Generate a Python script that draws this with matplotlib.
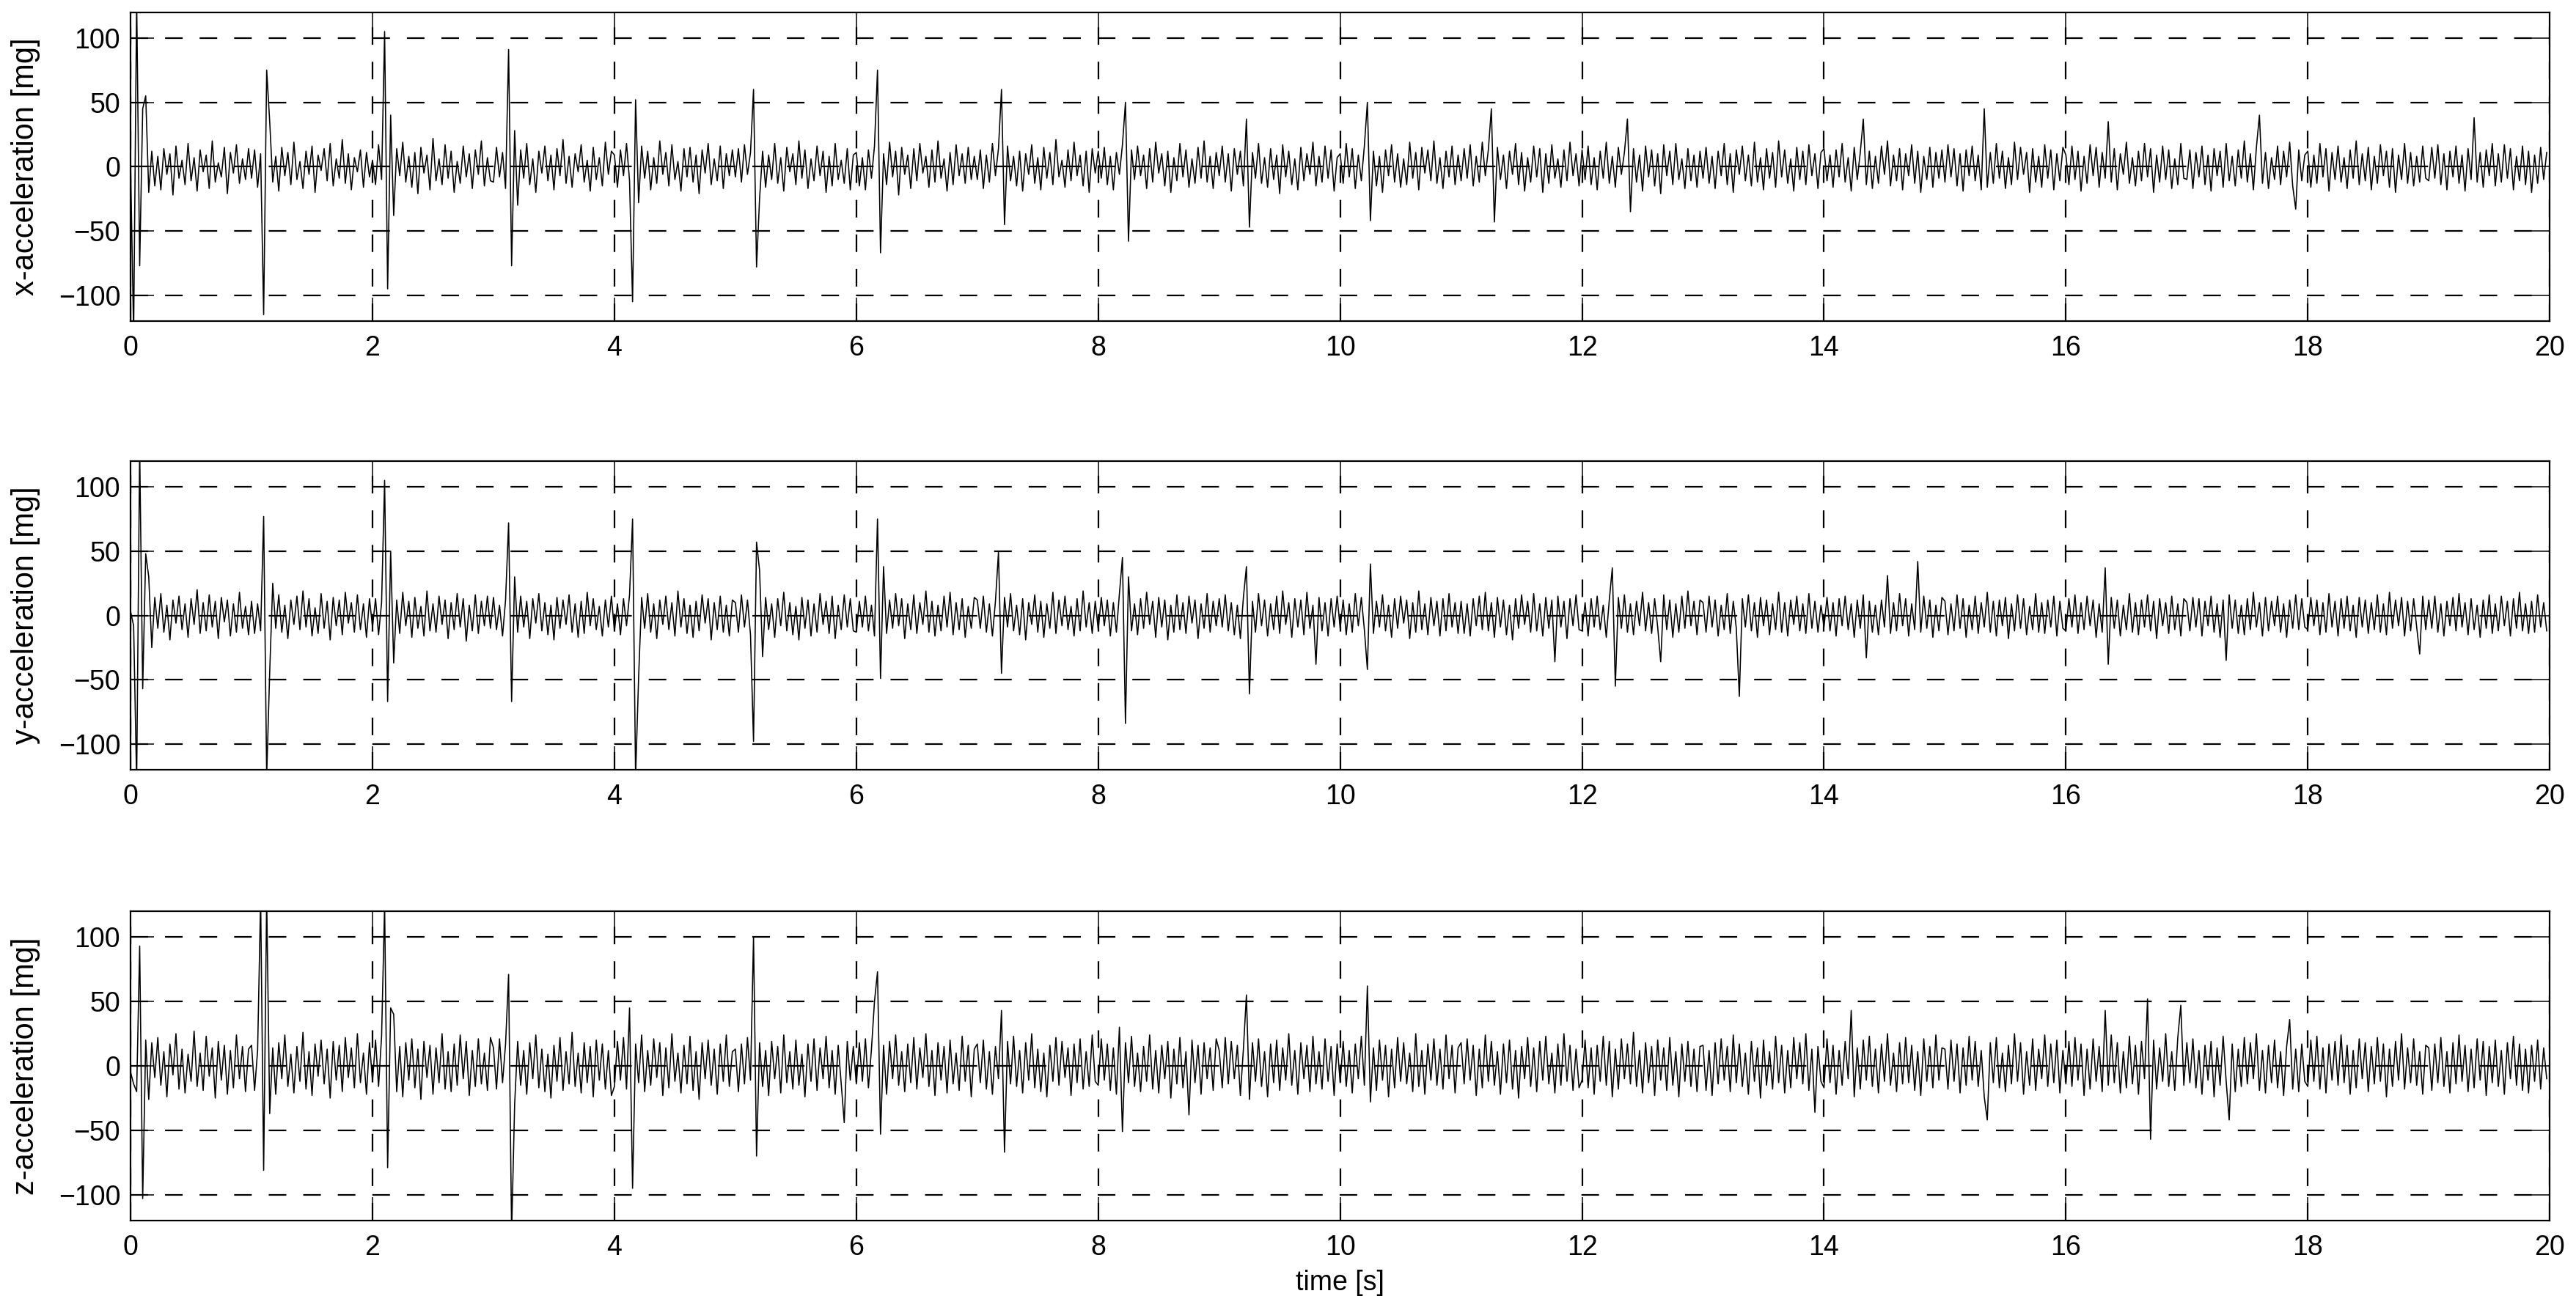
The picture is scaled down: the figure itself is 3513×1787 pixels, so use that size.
import numpy as np
import matplotlib
matplotlib.use('Agg')
import matplotlib.pyplot as plt

plt.rcParams['font.family'] = ['Liberation Sans', 'DejaVu Sans']

# acceleration readings [mg], one row per second (40 samples per second)
x_acc = [
    [0,-130,130,-77,45,55,-20,12,-15,8,-18,14,-6,10,-22,16,-9,5,-14,18,-11,7,-19,13,-4,9,-17,20,-12,3,-8,15,-21,11,-5,17,-13,6,-10,14],
    [-9,13,-16,10,-115,75,35,-12,8,-19,15,-7,11,-14,19,-10,4,-17,12,-6,16,-20,9,-3,14,-11,18,-15,6,-9,21,-13,10,-18,7,-4,13,-16,11,-8],
    [5,-14,17,-10,105,-95,40,-38,14,-7,19,-12,8,-16,11,-21,15,-5,9,-18,22,-11,6,-14,17,-9,12,-20,4,-13,16,-8,10,-17,13,-6,20,-15,7,-11],
    [-12,15,-8,11,-17,91,-77,28,-30,13,-9,18,-14,6,-20,12,-5,16,-11,9,-18,14,-7,21,-13,8,-16,10,-4,17,-12,5,-19,15,-10,7,-15,19,-6,12],
    [9,-16,13,-7,18,-11,-105,52,-28,16,-9,12,-18,7,-13,20,-6,11,-15,17,-10,4,-19,14,-8,15,-12,9,-21,13,-5,18,-14,6,-11,16,-17,10,-7,13],
    [-8,14,-12,17,-6,11,60,-78,-25,12,-16,9,-10,18,-13,7,-19,15,-4,10,-14,20,-9,13,-17,6,-11,16,-7,12,-20,8,-15,18,-10,5,-13,14,-18,9],
    [11,-15,7,-18,13,-9,16,75,-67,10,-14,19,-8,12,-22,15,-6,9,-17,14,-11,18,-5,8,-16,13,-12,20,-9,6,-19,11,-14,17,-7,10,-13,15,-10,8],
    [-10,13,-17,9,-12,18,-7,14,60,-45,16,-11,8,-15,12,-19,10,-6,17,-13,7,-18,15,-9,11,-14,21,-8,5,-16,13,-11,19,-7,9,-15,12,-20,14,-5],
    [12,-9,15,-14,8,-18,11,-6,17,50,-58,13,-10,16,-7,9,-17,14,-12,19,-5,10,-15,12,-20,7,-11,18,-8,13,-16,6,-13,15,-9,20,-12,8,-17,11],
    [-7,16,-12,10,-19,14,-6,12,-15,37,-47,11,-9,18,-13,7,-16,14,-10,9,-21,17,-8,12,-14,6,-18,15,-11,10,-6,19,-15,8,-12,16,-9,13,-19,7],
    [10,-13,18,-8,14,-17,9,-11,16,50,-42,12,-15,8,-20,13,-7,17,-12,10,-16,6,-14,19,-9,11,-18,15,-5,13,-11,20,-13,7,-17,12,-8,16,-14,9],
    [-11,14,-9,17,-15,8,-12,19,-7,13,45,-43,15,-10,9,-17,12,-6,18,-14,11,-19,7,-12,16,-8,14,-20,10,-13,17,-9,6,-16,13,-11,19,-7,10,-15],
    [13,-10,16,-14,7,-18,12,-9,19,-13,8,-16,15,-6,11,37,-35,14,-12,9,-19,16,-8,13,-15,10,-21,17,-7,12,-14,18,-10,6,-17,14,-11,9,-16,12],
    [-9,15,-13,8,-17,12,-7,18,-14,10,-20,13,-6,16,-11,9,-15,19,-12,7,-18,14,-9,11,-16,20,-8,13,-13,6,-19,15,-10,12,-14,17,-7,10,-17,11],
    [14,-11,9,-16,13,-8,18,-12,7,-19,15,-10,11,37,-14,12,-17,8,-13,16,-6,20,-15,9,-11,14,-18,10,-7,17,-13,12,-20,8,-10,15,-16,11,-9,13],
    [-12,17,-8,14,-15,10,-19,13,-7,16,-11,9,-18,45,-16,11,-13,18,-9,12,-17,7,-14,19,-10,15,-6,11,-20,14,-12,8,-16,17,-9,13,-18,10,-11,15],
    [9,-14,16,-10,12,-19,8,-13,17,-7,15,-16,11,-9,35,-12,14,-18,10,-6,19,-13,7,-15,12,-11,18,-8,14,-20,9,-12,16,-10,13,-17,6,-14,18,-9],
    [-10,13,-17,11,-8,16,-14,9,-19,14,-7,12,-16,18,-11,8,-15,13,-9,20,-12,10,-18,15,40,-13,11,-17,7,-10,16,-14,12,-8,19,-15,-33,13,-11,9],
    [12,-16,9,-13,18,-8,14,-19,11,-10,16,-12,7,-17,13,-9,20,-14,10,-11,15,-18,8,-13,17,-7,12,-16,14,-20,9,-10,18,-13,11,-15,8,-12,16,-9],
    [-11,15,-9,17,-14,10,-18,12,-8,16,-13,9,-19,14,-10,38,-12,11,-16,13,-7,18,-15,10,-12,17,-9,14,-18,8,-11,16,-14,12,-20,9,-13,15,-10,11],
]

y_acc = [
    [3,-8,-130,130,-57,48,30,-25,14,-10,17,-13,8,-19,12,-6,15,-11,9,-17,13,-7,20,-14,10,-12,16,-9,11,-18,14,-5,12,-16,9,-13,18,-10,7,-15],
    [11,-14,9,-12,77,-125,-44,25,-10,16,-13,8,-18,12,-7,15,-11,19,-9,13,-16,6,-14,17,-10,11,-19,14,-8,12,-15,18,-6,10,-13,16,-11,9,-17,13],
    [-9,13,-15,10,105,-67,50,-37,12,-14,18,-8,11,-17,14,-10,7,-16,19,-12,9,-13,15,-7,12,-18,10,-11,17,-9,13,-20,8,-12,16,-14,11,-8,15,-10],
    [14,-11,8,-16,12,72,-67,30,-13,15,-9,11,-18,13,-6,17,-12,10,-15,8,-19,14,-10,12,-7,16,-13,9,-17,11,-14,18,-8,13,-11,7,-16,12,-9,15],
    [-12,9,-15,13,-8,16,75,-125,-48,14,-10,17,-13,9,-18,12,-7,15,-11,10,-16,19,-9,13,-14,8,-17,11,-12,16,-6,13,-19,10,-11,15,-13,8,-16,12],
    [10,-13,16,-9,12,-15,-98,57,35,-32,14,-11,9,-17,13,-8,18,-12,10,-15,7,-19,14,-10,12,-16,9,-13,17,-7,11,-14,15,-18,8,-11,16,-9,13,-12],
    [-13,11,-9,15,-12,8,-16,75,-49,38,-14,12,-10,17,-8,13,-18,9,-11,16,-14,10,-7,19,-13,11,-16,8,-12,15,-9,18,-15,10,-11,13,-17,7,-10,14],
    [12,-10,15,-13,9,-16,11,49,-45,14,-9,17,-12,8,-15,13,-19,10,-7,16,-13,11,-17,9,-10,18,-14,12,-8,15,-11,7,-16,13,-12,19,-9,10,-14,11],
    [-11,14,-8,12,-16,10,-13,17,45,-84,30,-12,9,-15,13,-10,18,-7,11,-17,14,-9,12,-19,8,-13,16,-11,10,-14,15,-6,12,-18,9,-10,17,-13,11,-8],
    [13,-9,16,-12,10,-15,8,-18,14,38,-61,11,-13,17,-8,12,-16,9,-11,15,-14,19,-7,10,-17,13,-9,12,-15,18,-10,8,-38,14,-12,10,-16,13,-9,15],
    [-10,12,-15,9,-13,17,-8,14,-11,-42,40,-14,11,-9,16,-12,8,-17,13,-10,15,-6,12,-18,10,-13,19,-11,9,-15,14,-8,11,-16,13,-12,17,-9,10,-14],
    [11,-14,9,-16,13,-8,15,-11,18,-12,10,-17,14,-9,12,-15,8,-19,13,-10,16,-7,11,-13,17,-12,9,-16,14,-10,12,-36,15,-9,11,-18,13,-8,16,-11],
    [-12,10,-16,13,-9,15,-11,8,-17,12,37,-55,14,-10,16,-13,9,-15,11,-8,18,-12,10,-14,13,-9,-36,16,-11,12,-17,9,-13,15,-10,19,-8,11,-15,12],
    [10,-13,15,-9,12,-16,8,-11,17,-14,11,-10,-63,13,-9,16,-12,10,-17,14,-8,12,-15,9,-11,18,-13,10,-16,12,-7,15,-12,9,-14,17,-10,11,-13,8],
    [-9,14,-12,10,-16,13,-8,15,-11,9,-17,12,-10,16,-33,11,-13,8,-15,12,-9,31,-14,10,-12,17,-8,13,-16,9,-11,42,-13,15,-10,12,-17,8,-12,14],
    [11,-15,9,-12,16,-10,13,-17,8,-11,15,-14,10,-9,18,-13,11,-16,12,-8,14,-18,9,-12,16,-10,13,-15,7,-11,17,-13,10,-14,12,-9,15,-16,11,-10],
    [-12,13,-9,16,-14,10,-11,15,-8,12,-17,9,-13,37,-38,14,-10,12,-16,8,-11,17,-13,10,-15,12,-9,16,-12,11,-18,13,-8,10,-14,15,-11,9,-16,13],
    [10,-12,14,-9,13,-16,11,-8,15,-13,9,-17,12,-35,16,-10,12,-14,8,-15,13,-11,18,-9,10,-16,14,-12,11,-8,15,-13,9,-17,12,-10,16,-11,13,-9],
    [-11,14,-8,12,-15,10,-13,17,-9,11,-16,13,-10,15,-12,8,-17,14,-9,12,-14,10,-11,16,-13,9,-15,18,-10,12,-8,14,-16,11,-12,13,-9,-30,15,-11],
    [12,-10,15,-13,9,-16,11,-8,14,-12,17,-9,10,-15,13,-11,8,-17,12,-10,16,-14,9,-12,15,-8,11,-16,13,-10,18,-12,9,-14,11,-13,16,-9,10,-12],
]

z_acc = [
    [-5,-14,-20,93,-103,20,-26,18,-9,22,-15,11,-24,17,-7,25,-18,13,-21,9,-12,27,-16,10,-19,23,-8,14,-25,19,-11,16,-22,12,-17,24,-10,15,-20,13],
    [16,-19,12,130,-81,130,-37,14,-22,18,-10,24,-16,9,-21,15,-12,26,-18,11,-23,17,-8,20,-14,13,-25,19,-11,16,-20,22,-9,14,-17,25,-13,10,-22,18],
    [-12,20,-16,23,125,-79,45,40,-20,15,-24,18,-11,21,-17,13,-26,19,-9,16,-22,14,-13,25,-18,11,-20,17,-15,24,-10,19,-23,12,-16,21,-14,10,-19,22],
    [14,-18,21,-13,17,71,-130,-30,19,-15,12,-22,18,-10,24,-17,13,-20,9,-25,16,-12,22,-19,11,-14,26,-16,10,-21,18,-13,15,-24,20,-11,17,-18,12,-23],
    [-16,19,-11,22,-18,45,-95,17,-13,24,-20,12,-15,21,-9,18,-23,14,-17,25,-12,10,-21,16,-14,23,-19,11,-26,18,-10,20,-15,13,-22,17,-12,24,-16,11],
    [13,-20,17,-14,22,-11,100,-70,18,-16,12,-23,19,-10,15,-21,24,-13,11,-18,20,-15,9,-24,17,-12,21,-19,14,-10,23,-17,12,-22,16,-14,-44,19,-11,15],
    [-14,18,-12,21,-17,13,50,73,-53,16,-22,19,-10,24,-15,11,-20,17,-13,22,-18,14,-9,25,-16,12,-23,18,-11,15,-21,20,-14,10,-19,23,-12,16,-24,13],
    [17,-13,20,-18,11,-22,15,-10,43,-67,19,-14,23,-16,12,-21,18,-11,25,-17,13,-20,10,-24,16,-12,22,-15,19,-9,14,-23,17,-13,21,-18,11,-16,24,-12],
    [-15,21,-11,17,-19,14,-22,30,-51,18,-13,23,-16,10,-20,15,-12,24,-18,12,-21,16,-10,19,-25,13,-14,22,-17,11,-38,20,-13,16,-22,18,-10,14,-19,21],
    [12,-17,22,-14,19,-10,16,-23,13,55,-26,18,-12,21,-16,11,-24,17,-13,20,-19,14,-11,25,-15,12,-22,18,-10,16,-20,23,-14,11,-18,21,-12,15,-23,17],
    [-13,19,-16,12,-21,17,-10,23,-15,62,-28,14,-19,20,-11,16,-24,13,-17,22,-12,18,-14,10,-20,25,-16,12,-22,17,-11,21,-15,13,-18,24,-10,16,-21,14],
    [18,-14,21,-11,16,-23,13,-17,24,-12,19,-15,11,-22,17,-13,20,-18,12,-25,15,-10,22,-16,14,-20,19,-11,23,-14,10,-21,17,-15,25,-12,16,-19,13,-17],
    [-11,20,-17,14,-22,16,-12,23,-15,19,-24,13,-18,21,-10,17,-14,26,-16,12,-21,18,-13,15,-23,20,-11,14,-19,22,-15,11,-24,17,-12,19,-16,13,-20,15],
    [16,-19,12,-23,18,-14,21,-11,15,-20,24,-13,17,-16,10,-22,19,-12,14,-25,20,-15,11,-18,23,-13,16,-21,12,-17,22,-10,18,-14,25,-19,13,-36,15,-12],
    [-17,21,-13,16,-22,12,-15,19,-10,43,-24,14,-18,20,-11,23,-16,13,-21,17,-12,25,-15,10,-20,18,-14,22,-13,16,-19,11,-23,21,-12,15,-17,24,-11,14],
    [13,-18,20,-12,17,-21,14,-15,23,-11,19,-16,12,-24,-42,18,-13,22,-17,10,-20,16,-14,25,-12,18,-22,11,-15,21,-19,13,-10,24,-16,17,-13,20,-21,12],
    [-14,19,-16,22,-11,17,-23,13,-18,21,-12,15,-20,43,-15,24,-13,18,-21,11,-17,23,-14,16,-22,19,-10,52,-57,20,-18,14,-12,25,-16,11,-19,22,47,-15],
    [18,-13,21,-17,12,-22,16,-11,19,-24,14,-15,23,-12,-42,17,-20,13,-16,22,-14,18,-10,25,-19,12,-21,16,-13,20,-17,11,-23,15,36,-18,13,-20,17,-12],
    [-16,20,-12,23,-18,14,-21,17,-11,19,-15,24,-13,16,-22,12,-17,21,-10,18,-20,15,-14,22,-12,17,-24,13,-16,19,-11,25,-18,14,-13,21,-15,11,-22,16],
    [14,-19,17,-13,22,-16,11,-21,18,-14,24,-12,16,-20,13,-17,21,-11,19,-23,15,-13,20,-16,12,-22,18,-10,23,-15,17,-19,13,-21,16,-12,20,-18,14,-10],
]

y_labels = ['x-acceleration [mg]', 'y-acceleration [mg]', 'z-acceleration [mg]']
x_label = 'time [s]'
x_ticks = [0, 2, 4, 6, 8, 10, 12, 14, 16, 18, 20]
y_ticks = [-100, -50, 0, 50, 100]


def to_series(rows):
    t = np.concatenate([k + np.arange(len(r)) / len(r) for k, r in enumerate(rows)])
    v = np.concatenate([np.asarray(r, dtype=float) for r in rows])
    return t, v


fig = plt.figure(figsize=(35.13, 17.87), dpi=100)
positions = [
    [0.0507, 0.7549, 0.9391, 0.2358],
    [0.0507, 0.4124, 0.9391, 0.2356],
    [0.0507, 0.0683, 0.9391, 0.2361],
]

for pos, rows, lab in zip(positions, [x_acc, y_acc, z_acc], y_labels):
    ax = fig.add_axes(pos)
    t, v = to_series(rows)
    ax.plot(t, v, color='black', lw=1.15, zorder=3)
    ax.set_xlim(0, 20)
    ax.set_ylim(-120, 120)
    ax.set_xticks(x_ticks)
    ax.set_yticks(y_ticks)
    ax.grid(True, color='black', lw=1.6, linestyle=(0, (10.8, 10.4)))
    ax.tick_params(direction='in', length=23, width=1.1, top=True, right=True,
                   labelsize=27, pad=10)
    ax.tick_params(axis='x', pad=14)
    for s in ax.spines.values():
        s.set_linewidth(1.6)
    ax.set_ylabel(lab, fontsize=30)
    ax.yaxis.set_label_coords(-0.0373, 0.5)

ax.set_xlabel(x_label, fontsize=27, labelpad=8)

fig.savefig('out.png', dpi=100)
